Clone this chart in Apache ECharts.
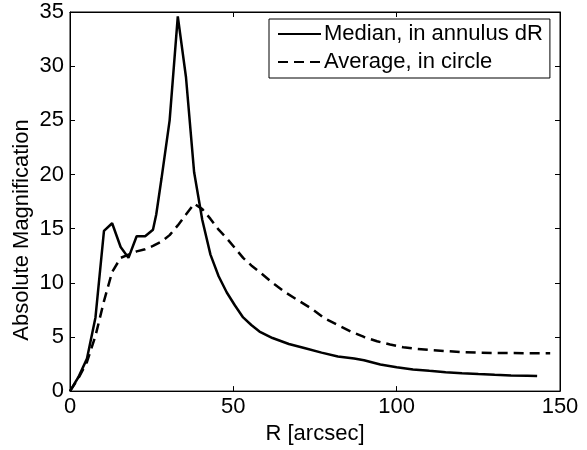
<!DOCTYPE html>
<html>
<head>
<meta charset="utf-8">
<script src="https://cdn.jsdelivr.net/npm/echarts@6/dist/echarts.min.js"></script>
<style>
html,body{margin:0;padding:0;background:#fff;}
#chart{width:587px;height:450px;}
</style>
</head>
<body>
<div id="chart"></div>
<script>
// Data
const medianR = [0, 2.6, 5.2, 7.8, 10.4, 12.9, 15.5, 17.9, 20.4, 23.0, 25.4, 26.4, 28.0, 30.5, 33.0, 35.5, 38.0, 40.5, 43.0, 45.5, 48, 50.5, 53, 55.5, 58, 62, 67, 72, 77, 82, 87, 90, 95, 100, 105, 110, 115, 120, 125, 130, 135, 140, 143];
const medianMag = [0, 1.3, 3.0, 6.8, 14.8, 15.5, 13.3, 12.3, 14.3, 14.3, 14.9, 16.3, 19.6, 25.0, 34.6, 29.0, 20.2, 15.8, 12.6, 10.6, 9.1, 7.9, 6.8, 6.1, 5.5, 4.9, 4.35, 3.95, 3.55, 3.2, 3.0, 2.85, 2.45, 2.2, 2.0, 1.87, 1.75, 1.65, 1.57, 1.5, 1.45, 1.42, 1.4];
const averageR = [0, 2.6, 5.2, 7.8, 10.4, 12.9, 15.5, 17.9, 20.4, 23.0, 25.4, 28, 30.5, 33, 35.5, 38, 40.5, 43, 45.5, 48, 50.5, 53, 55.5, 58, 62, 66, 70, 74, 78, 82, 86, 90, 94, 98, 102, 106, 110, 115, 120, 125, 130, 140, 147];
const averageMag = [0, 1.2, 2.7, 5.1, 8.3, 11.0, 12.3, 12.6, 12.9, 13.1, 13.4, 13.8, 14.4, 15.3, 16.3, 17.3, 16.8, 15.9, 14.9, 14.1, 13.2, 12.3, 11.6, 11.0, 10.0, 9.1, 8.35, 7.6, 6.7, 6.1, 5.5, 5.0, 4.6, 4.3, 4.05, 3.9, 3.8, 3.7, 3.6, 3.55, 3.52, 3.5, 3.5];
const xTicks = [0, 50, 100, 150];
const yTicks = [0, 5, 10, 15, 20, 25, 30, 35];
const seriesNames = ['Median, in annulus dR', 'Average, in circle'];
const xTitle = 'R [arcsec]';
const yTitle = 'Absolute Magnification';

const FONT = 'Liberation Sans';
const zip = (a, b) => a.map((v, i) => [v, b[i]]);

const chart = echarts.init(document.getElementById('chart'), null, {renderer: 'canvas'});
const axisCommon = {
  type: 'value',
  axisLine: {show: true, onZero: false, lineStyle: {color: '#000', width: 1}},
  axisTick: {show: true, inside: true, length: 5, lineStyle: {color: '#000', width: 1}},
  splitLine: {show: false},
};
chart.setOption({
  animation: false,
  backgroundColor: '#fff',
  grid: {left: 70, right: 27, top: 12, bottom: 52, containLabel: false,
         show: true, borderColor: '#000', borderWidth: 1, backgroundColor: 'transparent'},
  legend: {
    show: true,
    orient: 'vertical',
    left: 269,
    top: 19,
    data: seriesNames,
    itemWidth: 43,
    itemHeight: 14,
    itemGap: 4,
    padding: [3, 7, 4, 8],
    borderColor: '#000',
    borderWidth: 1,
    borderRadius: 0,
    backgroundColor: '#fff',
    itemStyle: {opacity: 0},
    textStyle: {fontFamily: FONT, fontSize: 22, color: '#000', lineHeight: 24, padding: [0, 0, 0, -2]},
  },
  graphic: [{
    type: 'text',
    x: 22, y: 230,
    rotation: Math.PI / 2,
    style: {text: yTitle, fontFamily: FONT, fontSize: 22, fill: '#000', align: 'center', verticalAlign: 'middle'},
  }],
  xAxis: [
    Object.assign({}, axisCommon, {
      position: 'bottom', min: xTicks[0], max: xTicks[xTicks.length - 1], interval: 50,
      name: xTitle, nameLocation: 'middle', nameGap: 29,
      nameTextStyle: {fontFamily: FONT, fontSize: 22, color: '#000'},
      axisLabel: {fontFamily: FONT, fontSize: 22, color: '#000', margin: 5},
    }),
    Object.assign({}, axisCommon, {
      position: 'top', min: xTicks[0], max: xTicks[xTicks.length - 1], interval: 50,
      axisLabel: {show: false},
    }),
  ],
  yAxis: [
    Object.assign({}, axisCommon, {
      position: 'left', min: yTicks[0], max: yTicks[yTicks.length - 1], interval: 5,
      axisLabel: {fontFamily: FONT, fontSize: 22, color: '#000', margin: 6},
    }),
    Object.assign({}, axisCommon, {
      position: 'right', min: yTicks[0], max: yTicks[yTicks.length - 1], interval: 5,
      axisLabel: {show: false},
    }),
  ],
  series: [
    {
      name: seriesNames[0], type: 'line', xAxisIndex: 0, yAxisIndex: 0,
      data: zip(medianR, medianMag), symbol: 'none', smooth: false,
      lineStyle: {color: '#000', width: 2.5, type: 'solid'},
      itemStyle: {color: '#000'},
    },
    {
      name: seriesNames[1], type: 'line', xAxisIndex: 0, yAxisIndex: 0,
      data: zip(averageR, averageMag), symbol: 'none', smooth: false,
      lineStyle: {color: '#000', width: 2.5, type: [10, 6]},
      itemStyle: {color: '#000'},
    },
    {
      type: 'line', xAxisIndex: 1, yAxisIndex: 1, data: [], silent: true, symbol: 'none',
    },
  ],
});
</script>
</body>
</html>
